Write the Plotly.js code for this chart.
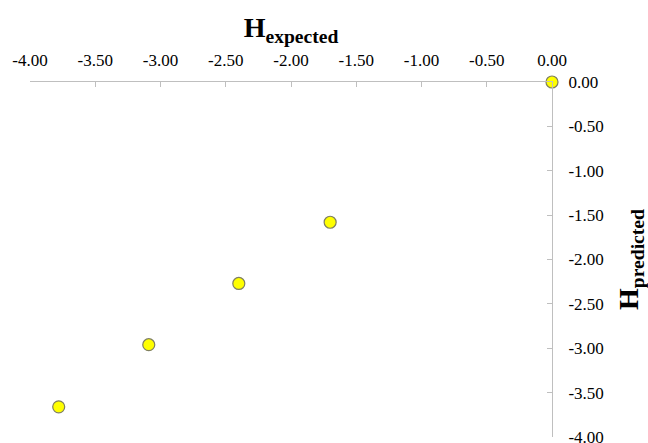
<!DOCTYPE html>
<html>
<head>
<meta charset="utf-8">
<script src="https://cdn.plot.ly/plotly-3.0.1.min.js"></script>
<style>html,body{margin:0;padding:0;background:#fff;}#chart{width:648px;height:443px;}</style>
</head>
<body>
<div id="chart"></div>
<script>
const hExpected = [0.00, -1.70, -2.40, -3.09, -3.78];
const hPredicted = [0.00, -1.58, -2.27, -2.96, -3.66];
const tickVals = [-4, -3.5, -3, -2.5, -2, -1.5, -1, -0.5, 0];
const tickText = ["-4.00", "-3.50", "-3.00", "-2.50", "-2.00", "-1.50", "-1.00", "-0.50", "0.00"];

const trace = {
  x: hExpected,
  y: hPredicted,
  mode: 'markers',
  type: 'scatter',
  marker: {size: 12, color: '#ffff00', line: {color: '#7f7f60', width: 1.2}},
  cliponaxis: false,
  hoverinfo: 'x+y'
};

const SERIF = 'Liberation Serif';

const layout = {
  width: 648, height: 443,
  margin: {l: 30, r: 96, t: 82, b: 6},
  paper_bgcolor: '#fff', plot_bgcolor: '#fff',
  showlegend: false,
  font: {family: SERIF, color: '#000', size: 17},
  xaxis: {
    side: 'top', range: [-4, 0], autorange: false,
    tickvals: tickVals, ticktext: tickText,
    ticks: 'inside', ticklen: 5, tickcolor: '#bfbfbf',
    showline: true, linecolor: '#bfbfbf', linewidth: 1,
    showgrid: false, zeroline: false,
    ticklabelstandoff: 8, ticklabeloverflow: 'allow',
    tickfont: {family: SERIF, size: 17, color: '#000'},
    title: {text: '<b>H</b><b><sub>expected</sub></b>', font: {family: SERIF, size: 28, color: '#000'}, standoff: 5}
  },
  yaxis: {
    side: 'right', range: [-4, 0], autorange: false,
    tickvals: tickVals, ticktext: tickText,
    ticks: 'inside', ticklen: 5, tickcolor: '#bfbfbf',
    showline: true, linecolor: '#bfbfbf', linewidth: 1,
    showgrid: false, zeroline: false,
    ticklabelstandoff: 12, ticklabeloverflow: 'allow',
    tickfont: {family: SERIF, size: 17, color: '#000'},
    title: {text: '<b>H</b><b><sub>predicted</sub></b>', font: {family: SERIF, size: 28, color: '#000'}, standoff: 15}
  }
};

Plotly.newPlot('chart', [trace], layout, {displayModeBar: false, staticPlot: true});
</script>
</body>
</html>
